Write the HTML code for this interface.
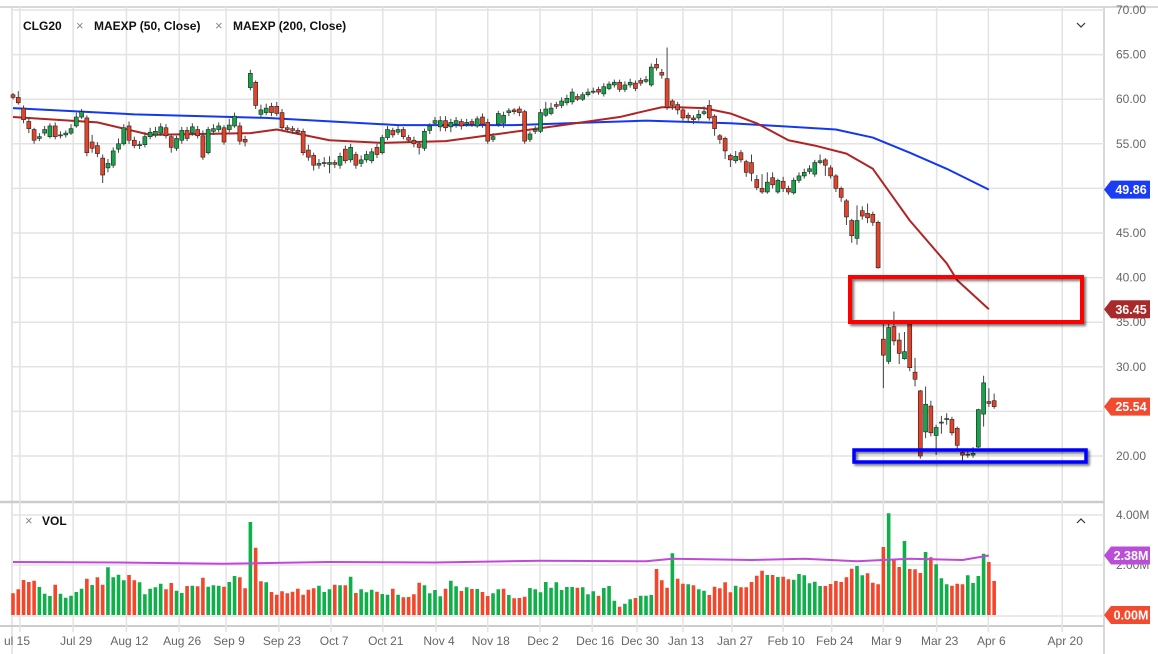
<!DOCTYPE html>
<html><head><meta charset="utf-8">
<style>
html,body{margin:0;padding:0;background:#fff;}
svg{display:block;font-family:"Liberation Sans",sans-serif;}
</style></head>
<body>
<svg id="chart" width="1158" height="654" viewBox="0 0 1158 654" xmlns="http://www.w3.org/2000/svg">
<defs>
<filter id="sh" x="-10%" y="-30%" width="130%" height="180%"><feDropShadow dx="2" dy="2" stdDeviation="1.2" flood-color="#000" flood-opacity="0.55"/></filter>
</defs>
<g id="grid"></g>
<g id="vol"></g>
<g id="lines"></g>
<g id="candles"></g>
<rect x="850" y="277" width="232" height="45" fill="none" stroke="#ff0000" stroke-width="4" filter="url(#sh)"/>
<rect x="854" y="450" width="232" height="12" fill="none" stroke="#0000ff" stroke-width="3.5" filter="url(#sh)"/>
<g id="axes"></g>
<g font-size="12" font-weight="bold" fill="#111">
<text x="23" y="30">CLG20</text>
<text x="76" y="30" fill="#888" font-weight="normal" font-size="13">×</text>
<text x="94" y="30">MAEXP (50, Close)</text>
<text x="215" y="30" fill="#888" font-weight="normal" font-size="13">×</text>
<text x="233" y="30">MAEXP (200, Close)</text>
<text x="25" y="525" fill="#888" font-weight="normal" font-size="13">×</text>
<text x="42" y="525">VOL</text>
</g>
<path d="M1077 23 L1081 27 L1085 23" fill="none" stroke="#333" stroke-width="1.2"/>
<path d="M1077 523 L1081 519 L1085 523" fill="none" stroke="#333" stroke-width="1.2"/>
</svg>
<script>
const opens=[60.5,60.2,59.0,57.5,56.6,55.6,56.2,55.8,57.0,55.9,56.0,56.2,57.0,58.0,57.9,55.2,54.8,53.4,52.3,52.6,54.4,55.0,57.0,55.4,54.8,54.9,55.8,56.0,56.2,56.8,55.8,54.5,55.4,56.5,56.2,56.6,55.9,54.0,56.4,56.6,56.8,56.6,57.0,57.0,55.5,61.3,61.9,58.3,58.5,59.2,59.2,58.5,56.8,56.7,56.5,56.4,54.3,53.7,52.6,52.8,52.7,52.9,52.6,54.4,53.2,53.8,52.8,53.2,53.1,54.6,54.0,55.7,56.5,56.3,56.6,55.7,55.4,55.0,54.5,56.5,57.3,56.9,57.6,56.9,57.2,57.5,57.2,57.5,57.0,58.0,57.4,55.5,57.2,57.3,58.5,58.8,58.9,58.6,55.5,56.4,56.4,58.2,58.4,59.4,59.3,59.6,59.7,60.3,60.0,60.5,60.8,61.1,60.6,61.2,61.6,61.9,61.1,61.6,61.8,62.1,62.0,61.6,63.9,63.0,62.3,59.8,59.4,58.8,58.2,57.9,57.9,58.4,59.3,58.1,55.9,55.6,53.7,53.1,54.0,53.0,52.9,51.0,50.0,49.6,51.2,49.6,50.8,50.0,49.5,50.9,51.4,51.9,51.6,52.9,53.2,52.3,51.4,50.0,48.6,46.4,44.4,47.5,47.2,47.1,46.2,33.1,30.6,34.5,33.0,30.9,34.9,29.4,27.3,22.7,25.6,22.3,23.7,24.1,24.1,23.1,20.4,20.2,20.1,21.0,24.7,26.1,26.2];
const highs=[60.7,60.9,59.3,58.0,56.8,56.2,57.0,57.3,57.4,56.4,56.5,57.2,58.5,58.9,58.2,56.0,55.2,53.8,53.3,54.6,55.6,57.2,57.5,55.8,55.3,56.3,56.8,56.9,57.3,57.2,56.1,55.9,56.9,56.9,57.3,57.0,56.5,56.9,57.2,57.4,57.1,57.8,58.5,57.4,55.9,63.3,62.1,59.4,59.5,59.6,59.7,58.9,57.1,57.0,56.8,56.7,54.9,54.0,53.3,53.5,53.6,53.2,54.0,54.8,55.0,54.1,53.7,54.2,54.5,55.0,56.0,57.0,56.8,57.0,56.9,56.0,55.8,55.3,56.7,57.3,58.0,58.1,58.1,57.8,58.0,57.8,57.8,57.8,58.1,58.4,57.8,56.2,58.7,58.6,59.0,59.0,59.2,58.8,56.4,57.0,58.9,59.7,59.6,59.7,60.2,60.5,61.2,60.6,60.8,61.2,61.3,61.4,61.8,62.0,62.2,62.2,62.0,62.3,62.1,62.4,62.6,64.0,64.6,63.4,65.8,60.0,59.7,59.0,58.5,58.2,58.8,59.2,59.9,58.3,56.1,55.8,53.9,54.2,54.3,53.2,53.8,51.5,51.6,51.8,51.8,51.1,51.3,50.3,51.2,51.8,52.2,52.6,53.2,53.8,53.4,52.6,51.6,50.2,48.8,46.6,48.1,48.0,48.3,47.4,46.4,35.0,35.2,36.2,33.8,33.9,35.0,31.0,27.4,27.8,26.2,23.5,24.5,24.8,24.4,23.3,20.6,20.8,21.0,25.3,29.0,27.6,27.0];
const lows=[60.0,59.4,57.3,56.2,55.0,55.3,55.9,55.6,55.5,55.6,55.7,56.0,56.8,57.8,53.6,54.0,53.5,50.6,51.8,52.3,54.0,54.8,55.0,54.5,54.4,54.6,55.5,55.7,55.9,55.6,54.0,54.2,55.0,55.3,55.9,55.6,53.2,53.8,56.0,56.3,54.9,56.3,56.8,54.9,54.7,61.0,58.9,58.0,58.2,58.1,58.1,56.5,56.3,56.1,56.0,53.7,53.1,52.0,52.2,52.4,51.7,52.3,52.2,52.8,52.9,52.2,52.4,52.9,52.8,53.4,53.8,55.4,55.7,56.0,55.5,55.1,54.6,53.8,54.2,56.1,57.0,56.4,56.4,56.3,56.8,56.6,56.9,56.9,56.8,56.8,55.0,55.2,56.9,56.8,58.1,58.3,58.1,55.0,55.2,56.1,56.2,58.0,58.2,58.9,59.0,59.3,59.4,59.8,59.8,60.3,60.6,60.5,60.3,61.0,61.3,60.8,60.8,61.3,60.9,61.5,61.8,61.4,63.2,62.3,58.8,58.8,58.3,57.6,57.5,57.2,57.6,58.2,57.6,55.9,55.0,53.3,52.4,52.8,52.9,51.3,50.8,49.8,49.4,49.4,50.0,49.4,49.6,49.3,49.3,50.6,51.1,51.6,51.3,52.7,51.4,51.1,49.6,48.5,45.9,43.9,43.7,46.5,46.1,45.8,41.0,27.6,30.3,32.4,30.3,30.8,29.5,27.8,19.7,22.0,22.2,20.1,22.5,23.5,22.3,20.8,19.3,19.8,19.8,20.9,23.3,25.5,25.3];
const closes=[60.2,59.6,57.7,56.7,55.4,55.8,56.6,57.0,55.8,56.0,56.2,56.7,58.0,58.6,54.0,54.5,53.9,51.5,52.8,54.2,55.0,56.8,55.4,54.8,54.9,55.8,56.3,56.4,56.9,55.9,54.6,55.6,56.5,55.6,56.9,55.9,53.5,56.6,56.7,57.0,55.2,57.1,58.1,55.3,55.2,62.9,59.3,58.8,59.0,58.5,58.4,56.8,56.6,56.5,56.3,54.0,53.5,52.6,52.8,52.9,52.9,52.7,53.6,53.1,54.6,52.6,53.2,53.8,54.1,53.8,55.7,56.6,56.0,56.6,55.8,55.4,55.0,54.6,56.4,57.0,57.6,57.6,56.8,57.4,57.6,57.0,57.4,57.2,57.8,57.2,55.3,55.8,58.4,58.2,58.7,58.6,58.5,55.3,56.1,56.6,58.5,58.9,59.0,59.2,59.8,60.1,60.8,60.0,60.5,60.8,60.9,60.8,61.4,61.7,61.9,61.1,61.6,61.9,61.2,61.8,62.2,63.6,63.5,62.7,59.1,59.3,58.8,57.9,57.9,57.7,58.3,58.6,57.9,56.7,55.5,54.2,53.2,53.6,53.2,51.8,51.7,50.1,49.6,50.7,50.4,50.9,50.0,49.6,50.9,51.4,51.8,52.2,52.9,53.1,52.6,51.4,50.0,49.0,46.8,44.7,46.4,46.9,46.7,46.2,41.1,31.3,34.4,32.9,31.5,31.7,29.9,28.6,20.0,25.8,22.6,23.2,23.8,24.2,22.6,21.2,20.1,20.1,20.3,25.2,28.2,25.9,25.54];
const volumes=[0.87,1.03,1.4,1.32,1.37,1.12,0.85,0.76,1.21,0.85,0.69,0.77,0.92,1.05,1.45,1.2,1.51,1.21,1.91,1.51,1.61,1.39,1.6,1.39,1.31,0.83,1.05,1.11,1.25,1.03,1.28,0.97,0.88,1.16,1.17,1.15,1.49,1.13,1.19,1.17,1.13,1.32,1.56,1.51,1.07,3.72,2.69,1.35,1.31,0.92,0.81,0.95,0.87,0.93,1.05,0.81,1.01,1.07,1.17,0.92,1.03,1.21,1.19,1.19,1.53,0.88,1.03,0.91,1.01,0.93,0.84,0.81,1.05,0.81,0.71,0.72,0.83,1.29,1.19,0.87,1.0,0.75,1.05,1.37,1.15,0.96,1.11,1.04,1.04,0.92,0.76,0.87,1.03,1.05,0.8,0.67,0.68,0.73,1.08,1.03,0.91,1.32,1.09,1.31,1.0,1.12,1.12,1.09,1.11,0.83,0.95,0.77,1.08,1.16,0.57,0.33,0.45,0.63,0.68,0.77,0.77,0.8,1.84,1.39,1.09,2.47,1.45,1.25,1.23,1.19,1.03,0.97,0.8,1.13,1.07,1.31,0.91,1.17,1.11,1.11,1.32,1.57,1.77,1.6,1.6,1.52,1.53,1.43,1.41,1.64,1.59,1.27,1.33,1.16,1.16,1.24,1.36,1.32,1.51,1.85,1.96,1.59,1.67,1.29,1.23,2.72,4.07,2.23,1.92,2.96,1.84,1.83,1.68,2.52,2.31,2.03,1.47,1.23,1.17,1.25,1.23,1.59,1.28,1.56,2.45,2.12,1.36];
const ema50Idx=[0,16,26,45,50,60,70,82,92,103,115,120,123,126,131,136,141,147,152,158,163,170,177,179,185];
const ema50Val=[58.0,57.4,56.0,56.2,56.6,55.4,55.1,55.3,56.1,57.0,58.0,58.7,59.1,59.1,59.0,58.4,57.3,55.4,54.8,53.9,52.2,46.4,41.6,39.7,36.45];
const ema200Idx=[0,23,48,73,95,110,120,136,145,156,163,170,177,185];
const ema200Val=[59.0,58.3,57.9,57.1,57.1,57.4,57.6,57.3,57.0,56.6,55.7,54.0,52.2,49.86];
const volMaIdx=[0,20,40,60,80,100,120,125,140,150,160,170,180,185];
const volMaVal=[2.12,2.1,2.05,2.12,2.1,2.17,2.15,2.25,2.2,2.25,2.15,2.25,2.2,2.38];
const priceTicks=[70,65,60,55,50,45,40,35,30,25,20];
const dateLabels=["ul 15","Jul 29","Aug 12","Aug 26","Sep 9","Sep 23","Oct 7","Oct 21","Nov 4","Nov 18","Dec 2","Dec 16","Dec 30","Jan 13","Jan 27","Feb 10","Feb 24","Mar 9","Mar 23","Apr 6","Apr 20"];
const dateIdx=[1.3,11.4,21.5,31.5,40.4,50.4,60.3,70.1,80.2,90,99.9,109.8,118.3,127,136.3,146,155.2,165,175.1,184.9,198.9];

const NS="http://www.w3.org/2000/svg";
const X=i=>13+i*5.275;
const Y=p=>10+(70-p)*8.92;
const VY=v=>615-v*25;
function mk(tag,attrs,parent){const e=document.createElementNS(NS,tag);for(const k in attrs)e.setAttribute(k,attrs[k]);parent.appendChild(e);return e;}
const grid=document.getElementById('grid'),axes=document.getElementById('axes');
mk('line',{x1:0,y1:7,x2:1158,y2:7,stroke:'#ccc','stroke-width':1.5},grid);
mk('line',{x1:12,y1:7,x2:12,y2:654,stroke:'#ddd','stroke-width':1.5},grid);
mk('line',{x1:1104,y1:7,x2:1104,y2:654,stroke:'#ccc','stroke-width':1.5},grid);
mk('line',{x1:0,y1:502,x2:1104,y2:502,stroke:'#ccc','stroke-width':2.5},grid);
mk('line',{x1:0,y1:626,x2:1104,y2:626,stroke:'#ccc','stroke-width':2},grid);
priceTicks.forEach(p=>{
  const g=mk('line',{x1:12,y1:Y(p),x2:1104,y2:Y(p),stroke:'#e3e3e3','stroke-width':1.5},grid);
  
  
  const t=mk('text',{x:1116,y:Y(p)+4,'font-size':12,fill:'#666'},axes);
  t.textContent=p.toFixed(2);
  
  
});
[4,2].forEach(v=>{
  mk('line',{x1:12,y1:VY(v),x2:1104,y2:VY(v),stroke:'#e3e3e3','stroke-width':1.5},grid);
});
mk('line',{x1:12,y1:VY(0)+1,x2:1104,y2:VY(0)+1,stroke:'#e3e3e3','stroke-width':1.5},grid);
const vt=mk('text',{x:1116,y:VY(4)+4,'font-size':12,fill:'#666'},axes);vt.textContent='4.00M';


const vt2=mk('text',{x:1116,y:VY(2)+4,'font-size':12,fill:'#666'},axes);vt2.textContent='2.00M';


dateLabels.forEach((d,k)=>{
  const x=X(dateIdx[k]);
  const l=mk('line',{x1:x,y1:7,x2:x,y2:632,stroke:'#e3e3e3','stroke-width':1.5},grid);
  
  
  const t=mk('text',{x:k===0?4:x+3,y:645,'font-size':12,fill:'#666','text-anchor':k===0?'start':'middle'},axes);
  t.textContent=d;
  
  
});
const vol=document.getElementById('vol');
volumes.forEach((v,i)=>{
  const up=i===0?closes[i]>=opens[i]:closes[i]>=closes[i-1];
  const r=mk('rect',{x:X(i)-1.8,y:VY(v),width:3.6,height:615-VY(v),fill:up?'#0fb04a':'#f4462b'},vol);
  
  
});
const lines=document.getElementById('lines');
function poly(idx,val,yf,color,w,name){
  const pts=idx.map((i,k)=>X(i)+','+yf(val[k])).join(' ');
  const p=mk('polyline',{points:pts,fill:'none',stroke:color,'stroke-width':w,'stroke-linejoin':'round'},lines);
  
  
}
poly(volMaIdx,volMaVal,VY,'#c04ad8',2,'volume-ma-line');
poly(ema200Idx,ema200Val,Y,'#1238f0',2,'ema200-line');
poly(ema50Idx,ema50Val,Y,'#b02424',2,'ema50-line');
const cg=document.getElementById('candles');
closes.forEach((c,i)=>{
  const o=opens[i],up=c>=o,x=X(i);
  const w=mk('line',{x1:x,y1:Y(highs[i]),x2:x,y2:Y(lows[i]),stroke:'#444','stroke-width':1},cg);
  
  
  const top=Y(Math.max(o,c)),bot=Y(Math.min(o,c));
  const b=mk('rect',{x:x-2,y:top,width:4,height:Math.max(1,bot-top),fill:up?'#16a34a':'#e2432a',stroke:'#222','stroke-width':0.6},cg);
  
  
});
function badge(yv,txt,color,name){
  const g=mk('g',{},axes);
  
  
  mk('path',{d:`M1104 ${yv} L1111 ${yv-9} L1150 ${yv-9} L1150 ${yv+9} L1111 ${yv+9} Z`,fill:color},g);
  const t=mk('text',{x:1131,y:yv+4.5,'font-size':12.5,'font-weight':'bold',fill:'#fff','text-anchor':'middle'},g);
  t.textContent=txt;
}
badge(Y(ema200Val[ema200Val.length-1]),ema200Val[ema200Val.length-1].toFixed(2),'#1a3cf5','ema200-badge');
badge(Y(ema50Val[ema50Val.length-1]),ema50Val[ema50Val.length-1].toFixed(2),'#a82a2a','ema50-badge');
badge(Y(closes[closes.length-1]),closes[closes.length-1].toFixed(2),'#f24a2f','last-price-badge');
badge(VY(volMaVal[volMaVal.length-1]),volMaVal[volMaVal.length-1].toFixed(2)+'M','#b84fd6','volume-ma-badge');
badge(VY(0),'0.00M','#f24a2f','volume-last-badge');
</script>
</body></html>
